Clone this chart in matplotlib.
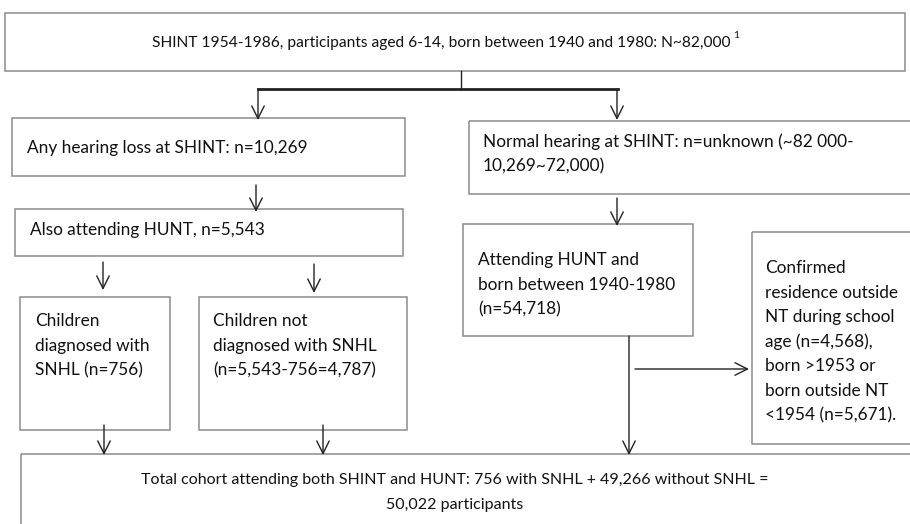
import matplotlib.pyplot as plt
from matplotlib.patches import Rectangle

plt.rcParams['font.family'] = ['Lato', 'DejaVu Sans']

# flowchart texts and counts
top_text = "SHINT 1954-1986, participants aged 6-14, born between 1940 and 1980: N~82,000"
top_note = "1"
hl_text = "Any hearing loss at SHINT: n=10,269"
hunt_text = "Also attending HUNT, n=5,543"
snhl_lines = ["Children", "diagnosed with", "SNHL (n=756)"]
nosnhl_lines = ["Children not", "diagnosed with SNHL", "(n=5,543-756=4,787)"]
normal_lines = ["Normal hearing at SHINT: n=unknown (~82 000-", "10,269~72,000)"]
attend_lines = ["Attending HUNT and", "born between 1940-1980", "(n=54,718)"]
excl_lines = ["Confirmed", "residence outside", "NT during school", "age (n=4,568),",
              "born >1953 or", "born outside NT", "<1954 (n=5,671)."]
total_lines = ["Total cohort attending both SHINT and HUNT: 756 with SNHL + 49,266 without SNHL =",
               "50,022 participants"]

W, H = 910, 524
fig = plt.figure(figsize=(W / 100, H / 100), dpi=100)
ax = fig.add_axes([0, 0, 1, 1])
ax.set_xlim(0, W)
ax.set_ylim(H, 0)
ax.axis('off')

edge = '#8c8c8c'
ink = '#111111'
fs = 12.4
lsp = 24.6


def box(x0, y0, x1, y1):
    ax.add_patch(Rectangle((x0, y0), x1 - x0, y1 - y0, fill=False, ec=edge, lw=1.1))


def lines_at(x, y, lines, **kw):
    for i, s in enumerate(lines):
        ax.text(x, y + i * lsp, s, fontsize=fs, va='center', color=ink, **kw)


def arrow(x0, y0, x1, y1):
    ax.annotate('', xy=(x1, y1), xytext=(x0, y0),
                arrowprops=dict(arrowstyle='->,head_length=0.9,head_width=0.45',
                                color='#222222', lw=1.0, shrinkA=0, shrinkB=0))


# top box
box(5, 13, 905, 71)
t = ax.text(441, 43, top_text, fontsize=11.2, va='center', ha='center', color=ink)
fig.canvas.draw()
bb = t.get_window_extent().transformed(ax.transData.inverted())
ax.text(bb.x1 + 3, 36, top_note, fontsize=7.5, va='center', color=ink)

ax.plot([461, 461], [71, 89], color='#222222', lw=1.0)
ax.plot([258, 618], [89, 89], color='#222222', lw=2.0)
arrow(258, 89, 258, 120)
arrow(617, 89, 617, 120)

# left branch
box(12, 118, 405, 176)
ax.text(27, 148, hl_text, fontsize=fs, va='center', color=ink)
arrow(256, 185, 256, 212)

box(15, 209, 403, 256)
ax.text(30, 230, hunt_text, fontsize=fs, va='center', color=ink)
arrow(103, 262, 103, 290)
arrow(314, 264, 314, 293)

box(20, 297, 170, 430)
lines_at(35, 321, snhl_lines)
box(199, 297, 407, 430)
lines_at(213, 321, nosnhl_lines)
arrow(104, 425, 104, 455)
arrow(323, 425, 323, 455)

# right branch
box(469, 121, 912, 194)
lines_at(483, 142, normal_lines)
arrow(617, 198, 617, 226)

box(463, 224, 693, 336)
lines_at(478, 260, attend_lines)

box(752, 232, 912, 444)
lines_at(765, 268, excl_lines)

arrow(629, 336, 629, 455)
arrow(635, 369, 749, 369)

# bottom box
box(21, 454, 915, 530)
for i, s in enumerate(total_lines):
    ax.text(455, 480 + i * lsp, s, fontsize=11.5, va='center', ha='center', color=ink)

fig.savefig('out.png', dpi=100)
